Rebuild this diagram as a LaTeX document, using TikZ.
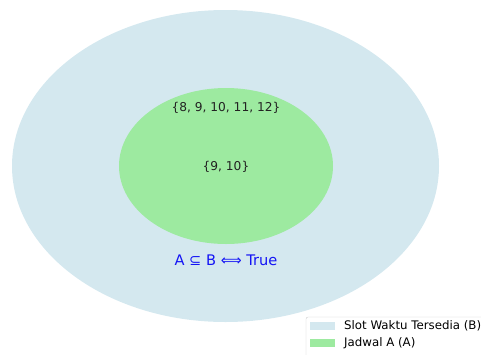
\documentclass[tikz,border=0pt]{standalone}
\usepackage{fontspec}
\setmainfont{DejaVu Sans}
\definecolor{setB}{RGB}{212,232,239}
\definecolor{setA}{RGB}{157,234,160}
\definecolor{legendedge}{RGB}{204,204,204}
\definecolor{settext}{RGB}{34,34,34}
\definecolor{relblue}{RGB}{20,20,245}
\begin{document}
\begin{tikzpicture}[x=1pt,y=-1pt,
  setlabel/.style={font=\fontsize{12.2}{14}\selectfont, text=settext, inner sep=0pt},
  legtext/.style={font=\fontsize{11.8}{14}\selectfont, text=black, anchor=west, inner sep=0pt},
  swatch/.style={minimum width=25pt, minimum height=8pt, inner sep=0pt, anchor=west}]
  \useasboundingbox (0,0) rectangle (481,354);
  \clip (0,0) rectangle (481,354);
  % universe of available slots and the schedule inside it
  \fill[setB] (225.5,166) ellipse [x radius=213.5, y radius=156];
  \fill[setA] (226,166) ellipse [x radius=107, y radius=78];
  \node[setlabel] (lblB) at (226,108) {\{8, 9, 10, 11, 12\}};
  \node[setlabel] (lblA) at (226,167) {\{9, 10\}};
  \node[font=\fontsize{14.6}{17}\selectfont, text=relblue, inner sep=0pt] (rel) at (226,260) {A ⊆ B ⟺ True};
  % legend
  \draw[legendedge, fill=white, rounded corners=2pt] (306,317) rectangle (490,362);
  \node[swatch, fill=setB] (swB) at (310,326) {};
  \node[swatch, fill=setA] (swA) at (310,343) {};
  \node[legtext] (legB) at (344,326) {Slot Waktu Tersedia (B)};
  \node[legtext] (legA) at (344,343) {Jadwal A (A)};
\end{tikzpicture}
\end{document}
